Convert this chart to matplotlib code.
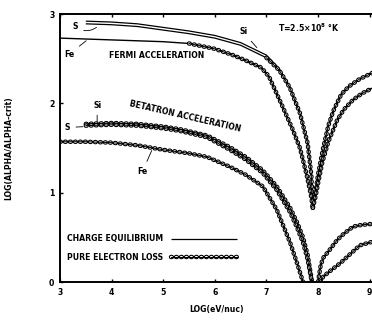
import matplotlib
matplotlib.use("Agg")
import matplotlib.pyplot as plt
import numpy as np
from matplotlib.legend_handler import HandlerTuple

plt.rcParams['font.family'] = ['DejaVu Sans']
plt.rcParams['font.weight'] = 'bold'
plt.rcParams['lines.scale_dashes'] = False

# ---------------- data ----------------
x_ticks = [3, 4, 5, 6, 7, 8, 9]
y_ticks = [0, 1, 2, 3]

# Fermi acceleration, S / Si (left branch of the dip)
fermi_s_x = [3.5, 4.0, 4.5, 5.0, 5.5, 6.0, 6.5, 7.0, 7.25, 7.45, 7.65, 7.8, 7.87, 7.9]
fermi_s_y = [2.89, 2.88, 2.86, 2.82, 2.78, 2.73, 2.65, 2.51, 2.37, 2.18, 1.89, 1.55, 1.2, 0.83]
fermi_si_y = [2.92, 2.91, 2.89, 2.85, 2.81, 2.76, 2.68, 2.54, 2.39, 2.19, 1.9, 1.56, 1.21, 0.83]
# Fermi, S right branch
fermi_s_rx = [7.9, 7.95, 8.0, 8.1, 8.2, 8.3, 8.45, 8.6, 8.8, 9.05]
fermi_s_ry = [0.83, 1.0, 1.2, 1.5, 1.75, 1.92, 2.1, 2.19, 2.27, 2.34]
# Fermi, Fe
fermi_fe_x = [3.0, 3.5, 4.0, 4.5, 5.0, 5.5, 6.0, 6.35, 6.6, 6.9, 7.05, 7.3, 7.5, 7.65, 7.78, 7.86, 7.9]
fermi_fe_y = [2.73, 2.72, 2.71, 2.70, 2.69, 2.67, 2.61, 2.54, 2.48, 2.40, 2.30, 1.98, 1.72, 1.5, 1.2, 0.98, 0.83]
fermi_fe_rx = [7.9, 7.95, 8.0, 8.08, 8.2, 8.37, 8.5, 8.68, 8.85, 9.05]
fermi_fe_ry = [0.83, 0.95, 1.1, 1.33, 1.57, 1.81, 1.93, 2.04, 2.11, 2.17]
fermi_s_loss_start = 6.95
fermi_fe_loss_start = 5.45

# Betatron acceleration, S / Si
beta_s_x = [3.5, 4.0, 4.5, 5.0, 5.33, 5.85, 6.29, 6.6, 6.93, 7.2, 7.46, 7.6, 7.71, 7.8, 7.88]
beta_s_y = [1.75, 1.76, 1.75, 1.72, 1.69, 1.62, 1.48, 1.37, 1.22, 1.03, 0.78, 0.6, 0.44, 0.25, 0.0]
beta_si_y = [1.77, 1.78, 1.77, 1.74, 1.71, 1.64, 1.51, 1.40, 1.25, 1.07, 0.83, 0.66, 0.5, 0.3, 0.02]
beta_s_rx = [8.0, 8.05, 8.1, 8.2, 8.37, 8.5, 8.68, 8.85, 9.05]
beta_s_ry = [0.0, 0.18, 0.27, 0.34, 0.47, 0.54, 0.62, 0.64, 0.65]
# Betatron, Fe
beta_fe_x = [3.0, 3.5, 4.0, 4.5, 5.0, 5.5, 5.85, 6.29, 6.6, 6.93, 7.2, 7.46, 7.6, 7.71]
beta_fe_y = [1.57, 1.57, 1.56, 1.53, 1.48, 1.44, 1.40, 1.29, 1.2, 1.07, 0.81, 0.44, 0.2, 0.0]
beta_fe_rx = [8.05, 8.1, 8.25, 8.43, 8.6, 8.81, 9.05]
beta_fe_ry = [0.0, 0.06, 0.13, 0.21, 0.3, 0.41, 0.45]

legend_labels = ["CHARGE EQUILIBRIUM", "PURE ELECTRON LOSS"]

# ---------------- figure ----------------
W, H = 372, 320
fig = plt.figure(figsize=(W / 100, H / 100), dpi=100)
x0, x1 = 60, 372
y0, y1 = 282, 14
ax = fig.add_axes([x0 / W, 1 - y0 / H, (x1 - x0) / W, (y0 - y1) / H])
ax.set_xlim(3, 3 + (x1 - x0) / 51.6)
ax.set_ylim(0, 3)

FS = 5.6
DASH = (0.6, 3.0)


def solid(x, y, lw=1.0):
    return ax.plot(x, y, color='k', lw=lw, solid_capstyle='butt')[0]


def beads(x, y):
    a = ax.plot(x, y, color='k', lw=3.2, dashes=DASH, dash_capstyle='round')[0]
    b = ax.plot(x, y, color='w', lw=1.6, dashes=DASH, dash_capstyle='round')[0]
    c = ax.plot(x, y, color='k', lw=0.7)[0]
    return (a, b, c)


def part(x, y, start):
    x = np.asarray(x)
    y = np.asarray(y)
    m = x >= start
    return x[m], y[m]


# Fermi
h_eq = solid(fermi_s_x, fermi_si_y, lw=0.9)
solid(fermi_s_x, fermi_s_y, lw=0.9)
solid(fermi_s_rx, fermi_s_ry)
solid(fermi_fe_x, fermi_fe_y)
solid(fermi_fe_rx, fermi_fe_ry)
beads(*part(fermi_s_x, fermi_s_y, fermi_s_loss_start))
beads(fermi_s_rx, fermi_s_ry)
beads(*part(fermi_fe_x, fermi_fe_y, fermi_fe_loss_start))
beads(fermi_fe_rx, fermi_fe_ry)

# Betatron
beads(beta_s_x, beta_si_y)
h_loss = beads(beta_s_x, beta_s_y)
beads(beta_s_rx, beta_s_ry)
beads(beta_fe_x, beta_fe_y)
beads(beta_fe_rx, beta_fe_ry)

# annotations
txt = dict(fontsize=FS, fontweight='bold', color='k')
ax.text(3.95, 2.53, "FERMI ACCELERATION", ha='left', va='center', **txt)
ax.text(5.42, 1.85, "BETATRON ACCELERATION", ha='center', va='center',
        rotation=-13, rotation_mode='anchor', **txt)
ax.text(7.83, 2.84, "T=2.5×10$^{\\mathbf{8}}$ °K", ha='center', va='center', **txt)

arw = dict(arrowstyle='-', color='k', lw=0.6)
ax.annotate("S", xy=(3.75, 2.87), xytext=(3.3, 2.86), ha='center', va='center',
            arrowprops=dict(arw, connectionstyle="arc3,rad=0.4"), **txt)
ax.annotate("Fe", xy=(3.55, 2.72), xytext=(3.18, 2.55), ha='center', va='center',
            arrowprops=arw, **txt)
ax.annotate("Si", xy=(6.85, 2.6), xytext=(6.55, 2.8), ha='center', va='center',
            arrowprops=arw, **txt)
ax.annotate("Si", xy=(3.72, 1.76), xytext=(3.72, 1.98), ha='center', va='center',
            arrowprops=arw, **txt)
ax.annotate("S", xy=(3.5, 1.74), xytext=(3.15, 1.73), ha='center', va='center',
            arrowprops=arw, **txt)
ax.annotate("Fe", xy=(4.8, 1.5), xytext=(4.6, 1.24), ha='center', va='center',
            arrowprops=arw, **txt)

leg = ax.legend([h_eq, h_loss], legend_labels, loc='lower left',
                bbox_to_anchor=(0.0, 0.05), frameon=False, markerfirst=False,
                handlelength=8.5, handletextpad=1.0, labelspacing=1.2,
                prop=dict(size=FS, weight='bold'),
                handler_map={tuple: HandlerTuple(ndivide=1, pad=0)})

# axes styling
ax.set_xticks(x_ticks)
ax.set_yticks(y_ticks)
ax.set_xticklabels([str(v) for v in x_ticks], fontsize=FS, fontweight='bold')
ax.set_yticklabels([str(v) for v in y_ticks], fontsize=FS, fontweight='bold')
ax.tick_params(direction='in', length=2.5, width=1.0, top=True, pad=4)
for s in ['left', 'bottom', 'top']:
    ax.spines[s].set_linewidth(1.4)
ax.spines['right'].set_visible(False)
ax.set_xlabel("LOG(eV/nuc)", fontsize=FS, fontweight='bold', labelpad=6)
ax.set_ylabel("LOG(ALPHA/ALPHA-crit)", fontsize=FS, fontweight='bold', labelpad=26)

fig.savefig("out.png", dpi=100)
